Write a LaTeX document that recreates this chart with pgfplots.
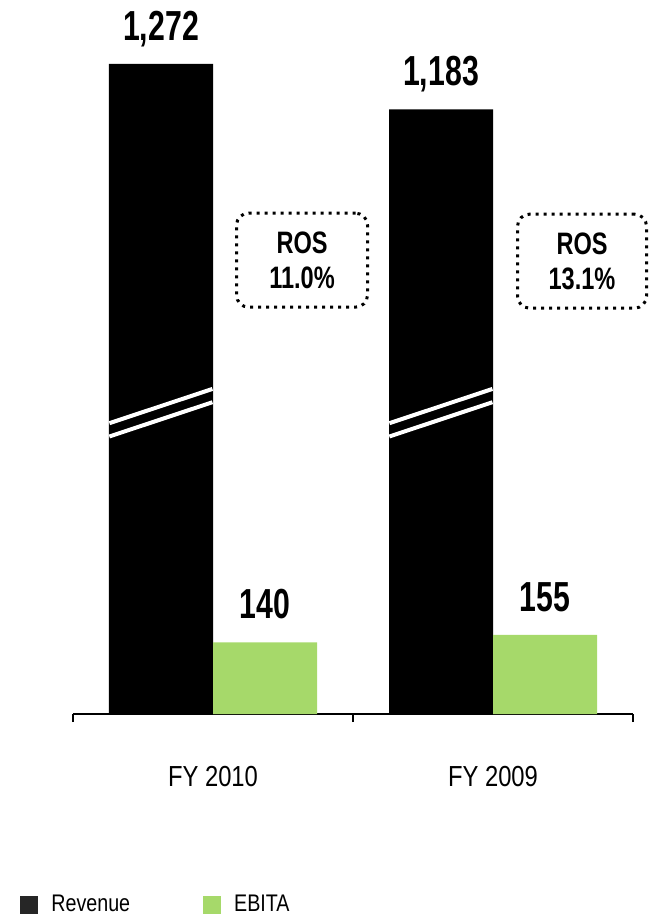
\documentclass[border=0pt]{standalone}
\usepackage{fontspec}
\setmainfont{Liberation Sans}[FakeStretch=0.82]
\newfontfamily\numfont{Liberation Sans}[FakeStretch=0.72]
\newfontfamily\rosfont{Liberation Sans}[FakeStretch=0.76]
\usepackage{pgfplots}
\pgfplotsset{compat=1.18}
\definecolor{EbitaGreen}{HTML}{A6D96A}

\begin{document}
\begin{tikzpicture}
  \begin{axis}[
      scale only axis,
      width=280pt,height=357pt,
      xmin=-0.5,xmax=1.5,ymin=0,ymax=1397,
      ybar=0pt,bar width=52pt,
      axis x line*=bottom,axis y line=none,
      axis line style={black,line width=0.75pt},
      xtick={0,1},xticklabels={FY 2010,FY 2009},
      major tick length=0pt,
      xticklabel style={font=\fontsize{14.5pt}{14.5pt}\selectfont,anchor=base,yshift=-36pt},
      extra x ticks={-0.5,0.5,1.5},extra x tick labels={},
      extra x tick style={major tick length=4pt,tick align=outside,tick style={black,line width=0.75pt}},
      clip=false,
      nodes near coords={\pgfmathprintnumber[1000 sep={,},assume math mode=true]{\pgfplotspointmeta}},
      nodes near coords style={font=\fontsize{21pt}{21pt}\selectfont\numfont\bfseries,anchor=base,yshift=11.75pt},
      legend style={draw=none,fill=none,inner sep=0pt,legend columns=2,
        at={(rel axis cs:0,0)},anchor=west,xshift=-26.5pt,yshift=-95.5pt,
        font=\fontsize{12pt}{12pt}\selectfont,
        nodes={inner sep=0pt},
        /tikz/every odd column/.append style={column sep=6.5pt},
        /tikz/every even column/.append style={column sep=36.5pt}},
    ]
    \addplot[fill=black,draw=none,legend image code/.code={\fill[black!85] (0pt,-4.5pt) rectangle (9pt,4.5pt);}]
      coordinates {(0,1272) (1,1183)};
    \addplot[fill=EbitaGreen,draw=none,legend image code/.code={\fill[EbitaGreen] (0pt,-4.5pt) rectangle (9pt,4.5pt);}]
      coordinates {(0,140) (1,155)};
    \legend{Revenue,EBITA}

    % axis break marks on the revenue bars
    \draw[white,line width=2pt] (axis cs:-0.37,569) -- (axis cs:-0.002,636);
    \draw[white,line width=2pt] (axis cs:-0.37,543) -- (axis cs:-0.002,610);
    \draw[white,line width=2pt] (axis cs:0.63,569) -- (axis cs:0.998,636);
    \draw[white,line width=2pt] (axis cs:0.63,543) -- (axis cs:0.998,610);

    % ROS boxes
    \node[draw=black,line width=1.5pt,dash pattern=on 1.5pt off 2.5pt,rounded corners=6pt,
      minimum width=65.5pt,minimum height=47pt,align=center,
      font=\fontsize{15.5pt}{17.5pt}\selectfont\rosfont\bfseries]
      at (axis cs:0.318,888) {ROS\\11.0\%};
    \node[draw=black,line width=1.5pt,dash pattern=on 1.5pt off 2.5pt,rounded corners=6pt,
      minimum width=64.5pt,minimum height=47pt,align=center,
      font=\fontsize{15.5pt}{17.5pt}\selectfont\rosfont\bfseries]
      at (axis cs:1.318,886) {ROS\\13.1\%};

    \coordinate (SW) at (rel axis cs:0,0);
    \coordinate (NE) at (rel axis cs:1,1);
  \end{axis}
  \pgfresetboundingbox
  \path ([xshift=-36.5pt,yshift=-100.5pt]SW) rectangle ([xshift=7.5pt]NE);
\end{tikzpicture}
\end{document}
